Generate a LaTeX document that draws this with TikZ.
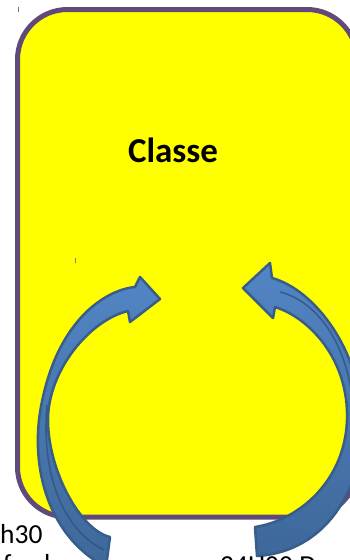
\documentclass[tikz,border=0pt]{standalone}
\usepackage{fontspec}
\setmainfont{Carlito}
\definecolor{boxfill}{RGB}{255,255,0}
\definecolor{boxline}{RGB}{96,74,123}
\definecolor{arrowtop}{RGB}{82,133,196}
\definecolor{arrowbot}{RGB}{62,104,154}
\definecolor{arrowline}{RGB}{56,93,138}
\definecolor{foldcol}{RGB}{50,84,126}
\definecolor{tickcol}{RGB}{120,110,150}
\begin{document}
\begin{tikzpicture}[x=1pt,y=-1pt,
  panel/.style={draw=boxline,line width=5pt,fill=boxfill,rounded corners=50pt},
  titletext/.style={inner sep=0pt,font=\fontsize{35}{42}\selectfont\bfseries},
  bodytext/.style={inner sep=0pt,anchor=base west,font=\fontsize{27.5}{33}\selectfont},
  arrowshape/.style={draw=arrowline,line width=2.5pt,line join=round,top color=arrowtop,bottom color=arrowbot},
  fold/.style={draw=foldcol,line width=1.6pt,opacity=0.8},
  tickmark/.style={draw=tickcol,line width=0.8pt}]
\useasboundingbox (0,0) rectangle (349,560);
\draw[panel] (17.5,9.5) rectangle (357,517);
\node[titletext] (classe) at (173,150) {Classe};
\draw[tickmark] (18,7) -- (18,12);
\draw[tickmark,draw=gray] (75,258) -- (75,263);
% left curved arrow
\draw[arrowshape] (160,299) -- (140,277) -- (135,287)
  .. controls (105,290) and (60,320) .. (43,397)
  .. controls (28,460) and (45,535) .. (106,567) -- (110,537)
  .. controls (80,530) and (48,470) .. (48,420)
  .. controls (48,370) and (90,320) .. (128,311) -- (130,322) -- cycle;
\draw[fold] (47,405) .. controls (42,460) and (55,525) .. (104,550);
% right curved arrow
\draw[arrowshape] (243,288) -- (270,263) -- (272,278)
  .. controls (315,290) and (360,350) .. (362,420)
  .. controls (364,490) and (325,552) .. (257,556) -- (255,527)
  .. controls (300,520) and (345,480) .. (347,420)
  .. controls (349,360) and (310,318) .. (275,307) -- (273,318) -- cycle;
\draw[fold] (280,292) .. controls (320,302) and (352,350) .. (354,420);
% bottom texts
\node[bodytext] (time) at (0,543) {h30};
\node[bodytext] (nextf) at (3,573) {f};
\node[bodytext] (nextl) at (44,573) {l};
\node[bodytext] (hour) at (220,574) {24H00 D};
\end{tikzpicture}
\end{document}
